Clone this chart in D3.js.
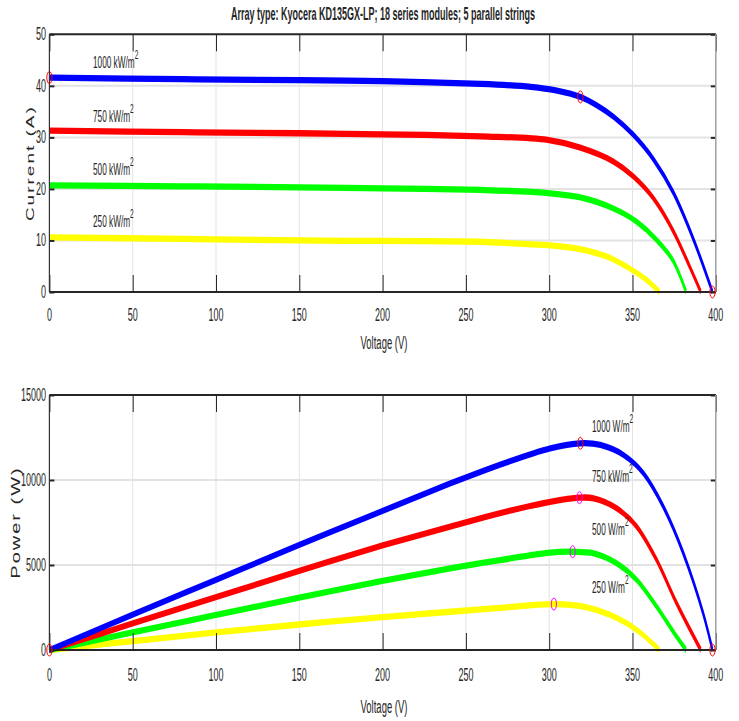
<!DOCTYPE html>
<html><head><meta charset="utf-8">
<script src="https://cdn.jsdelivr.net/npm/d3@7"></script>
<style>body{margin:0;background:#fff} text{font-family:Arial,"Liberation Sans",sans-serif;fill:#262626}</style>
</head><body><svg id="c" width="739" height="721"></svg>
<script>
// ---------- DATA ----------
const titleText = "Array type: Kyocera KD135GX-LP; 18 series modules; 5 parallel strings";
const xTicks = [0, 50, 100, 150, 200, 250, 300, 350, 400];
const iTicks = [0, 10, 20, 30, 40, 50];
const pTicks = [0, 5000, 10000, 15000];

// I-V curves (Voltage V, Current A)
const ivV1000 = [0, 80, 150, 200, 259, 289, 304, 318.7, 328.6, 338.6, 350.2, 362.5, 374.5, 386.5, 398];
const ivI1000 = [41.6, 41.3, 41.1, 40.9, 40.4, 39.8, 39.1, 37.85, 36.2, 34.0, 30.6, 25.8, 19.3, 10.3, 0];
const ivV750 = [0, 80, 150, 200, 259, 299, 318.7, 338.6, 350.6, 362.5, 374.5, 384.5, 391];
const ivI750 = [31.3, 31.0, 30.8, 30.6, 30.2, 29.5, 28.0, 25.3, 22.4, 18.2, 11.8, 4.8, 0];
const ivV500 = [0, 80, 150, 200, 259, 299, 318.7, 338.6, 352.6, 364.5, 374.5, 382.2];
const ivI500 = [20.7, 20.5, 20.3, 20.1, 19.8, 19.2, 18.35, 16.2, 13.6, 10.1, 6.0, 0];
const ivV250 = [0, 80, 150, 200, 259, 299, 318.7, 334.7, 346.6, 358.6, 366.2];
const ivI250 = [10.6, 10.3, 10.0, 9.9, 9.75, 9.1, 8.3, 6.85, 4.9, 2.3, 0];

// P-V curves (Voltage V, Power W)
const pvV1000 = [0, 50, 100, 150, 200, 240.6, 270.6, 300.6, 318.7, 330.7, 344.6, 356.6, 368.5, 380.5, 392.4, 398];
const pvP1000 = [0, 2080, 4130, 6180, 8180, 9800, 10900, 11860, 12160, 12060, 11470, 10390, 8430, 5690, 2160, 0];
const pvV750 = [0, 50, 100, 150, 200, 240.6, 270.6, 300.6, 318.2, 326.7, 340.6, 352.6, 364.5, 376.5, 391];
const pvP750 = [0, 1560, 3110, 4650, 6160, 7250, 8050, 8720, 8960, 8920, 8330, 7250, 5290, 2750, 0];
const pvV500 = [0, 50, 100, 150, 200, 240.6, 270.6, 300.6, 314.1, 326.7, 340.6, 352.6, 364.5, 376.5, 382.2];
const pvP500 = [0, 1035, 2060, 3080, 4070, 4800, 5290, 5730, 5780, 5690, 5100, 4120, 2550, 780, 0];
const pvV250 = [0, 50, 100, 150, 200, 240.6, 270.6, 302.8, 320.7, 336.6, 352.6, 366.2];
const pvP250 = [0, 525, 1040, 1500, 1930, 2250, 2480, 2700, 2550, 2060, 1180, 0];

const seriesColors = ["#0000ff", "#ff0000", "#00ff00", "#ffff00"];
const ivLabels = ["1000 kW/m", "750 kW/m", "500 kW/m", "250 kW/m"];
const ivLabelPos = [[93, 68], [93, 122], [93, 175], [93, 227]];
const pvLabels = ["1000 W/m", "750 kW/m", "500 W/m", "250 W/m"];
const pvLabelPos = [[592, 432], [592, 482], [592, 535], [592, 593]];

// markers
const ivMarkV = [0, 318.7, 398];
const ivMarkI = [41.6, 37.85, 0];
const ivMarkColors = ["#ff0000", "#ff0000", "#ff0000"];
const pvMarkV = [318.7, 318.2, 314.1, 302.8, 0, 398];
const pvMarkP = [12160, 8960, 5780, 2700, 0, 0];
const pvMarkColors = ["#ff0000", "#ff00ff", "#ff00ff", "#ff00ff", "#ff0000", "#ff0000"];

// ---------- LAYOUT ----------
const svg = d3.select("#c");
const X0 = 49.4, X1 = 715.8;
const K = 3.3; // anisotropic stretch of the picture
const SX = 0.5; // text horizontal compression

const x = d3.scaleLinear().domain([0, 400]).range([X0, X1]);

function stxt(g, px, py, str, size, anchor, weight) {
  const t = g.append("g").attr("transform", `translate(${px},${py}) scale(${SX},1)`)
    .append("text").attr("text-anchor", anchor || "start").style("font-size", size + "px");
  if (weight) t.style("font-weight", weight);
  t.text(str);
  return t;
}

function panel(top, bottom, yDomain, yTicks, ivV, ivY, marksV, marksY, markColors, labels, labelPos, yLabel, yLabelX, yLabelSize, xTickBase, xLabelBase) {
  const g = svg.append("g");
  const y = d3.scaleLinear().domain(yDomain).range([bottom, top]);
  // grid
  g.selectAll(".vg").data(xTicks.slice(1, -1)).enter().append("line")
    .attr("x1", d => x(d)).attr("x2", d => x(d)).attr("y1", top).attr("y2", bottom)
    .attr("stroke", "#e3e3e3").attr("stroke-width", 1);
  g.selectAll(".hg").data(yTicks.slice(1, -1)).enter().append("line")
    .attr("x1", X0).attr("x2", X1).attr("y1", d => y(d)).attr("y2", d => y(d))
    .attr("stroke", "#e3e3e3").attr("stroke-width", 2);

  // curves in stretched frame
  const h = bottom - top;
  const ys = d3.scaleLinear().domain(yDomain).range([h / K, 0]);
  const gs = g.append("g").attr("transform", `translate(0,${top}) scale(1,${K})`);
  const line = d3.line().x(d => x(d[0])).y(d => ys(d[1])).curve(d3.curveCatmullRom.alpha(0.5));
  for (let s = 3; s >= 0; s--) {
    const pts = ivV[s].map((v, i) => [v, ivY[s][i]]);
    gs.append("path").attr("d", line(pts)).attr("fill", "none")
      .attr("stroke", seriesColors[s]).attr("stroke-width", 1.9);
  }

  // axes box
  const xb = d3.axisBottom(x).tickValues(xTicks).tickSizeInner(-17).tickSizeOuter(0).tickFormat(d3.format("d")).tickPadding(0);
  const ax = g.append("g").attr("transform", `translate(0,${bottom})`).call(xb);
  ax.select(".domain").remove();
  ax.selectAll("line").attr("stroke", "#262626").attr("stroke-width", 1);
  ax.selectAll("text").remove();
  const at = g.append("g").attr("transform", `translate(0,${top})`).call(d3.axisTop(x).tickValues(xTicks).tickSizeInner(-17).tickSizeOuter(0).tickFormat(""));
  at.select(".domain").remove();
  at.selectAll("line").attr("stroke", "#262626");
  const al = g.append("g").attr("transform", `translate(${X0},0)`).call(d3.axisLeft(y).tickValues(yTicks).tickSizeInner(-5).tickSizeOuter(0).tickFormat(""));
  al.select(".domain").remove();
  al.selectAll("line").attr("stroke", "#262626").attr("stroke-width", 2);
  const ar = g.append("g").attr("transform", `translate(${X1},0)`).call(d3.axisRight(y).tickValues(yTicks).tickSizeInner(-5).tickSizeOuter(0).tickFormat(""));
  ar.select(".domain").remove();
  ar.selectAll("line").attr("stroke", "#262626").attr("stroke-width", 2);

  g.append("line").attr("x1", X0).attr("x2", X1).attr("y1", top).attr("y2", top).attr("stroke", "#262626").attr("stroke-width", 2);
  g.append("line").attr("x1", X0).attr("x2", X1).attr("y1", bottom).attr("y2", bottom).attr("stroke", "#262626").attr("stroke-width", 2);
  g.append("line").attr("x1", X0).attr("x2", X0).attr("y1", top).attr("y2", bottom).attr("stroke", "#333").attr("stroke-width", 1.2);
  g.append("line").attr("x1", X1).attr("x2", X1).attr("y1", top).attr("y2", bottom).attr("stroke", "#a0a0a0").attr("stroke-width", 1.5);

  // tick labels
  xTicks.forEach(d => stxt(g, x(d), xTickBase, String(d), 18, "middle"));
  yTicks.forEach(d => stxt(g, 46, y(d) + 6, String(d), 18, "end"));

  // markers
  marksV.forEach((v, i) => {
    g.append("ellipse").attr("cx", x(v)).attr("cy", y(marksY[i])).attr("rx", 2.6).attr("ry", 6)
      .attr("fill", "none").attr("stroke", markColors[i]).attr("stroke-width", 1);
  });

  // curve labels
  labels.forEach((l, i) => {
    const t = stxt(g, labelPos[i][0], labelPos[i][1], "", 16.5, "start");
    t.append("tspan").text(l);
    t.append("tspan").attr("dy", -9).style("font-size", "13px").text("2");
  });

  // axis labels
  stxt(g, 384, xLabelBase, "Voltage (V)", 19, "middle");
  g.append("text").attr("transform", `translate(${yLabelX},${(top + bottom) / 2}) rotate(-90) scale(1,0.6)`)
    .attr("text-anchor", "middle").attr("dy", "0.35em").style("font-size", yLabelSize + "px").style("letter-spacing", "2px").text(yLabel);
}

panel(34.3, 292, [0, 50], iTicks, [ivV1000, ivV750, ivV500, ivV250], [ivI1000, ivI750, ivI500, ivI250],
  ivMarkV, ivMarkI, ivMarkColors, ivLabels, ivLabelPos, "Current (A)", 30, 19, 321, 349);
panel(395, 650, [0, 15000], pTicks, [pvV1000, pvV750, pvV500, pvV250], [pvP1000, pvP750, pvP500, pvP250],
  pvMarkV, pvMarkP, pvMarkColors, pvLabels, pvLabelPos, "Power (W)", 16, 20, 681, 713);

stxt(svg, 383, 20, titleText, 18, "middle", "bold");
</script></body></html>
